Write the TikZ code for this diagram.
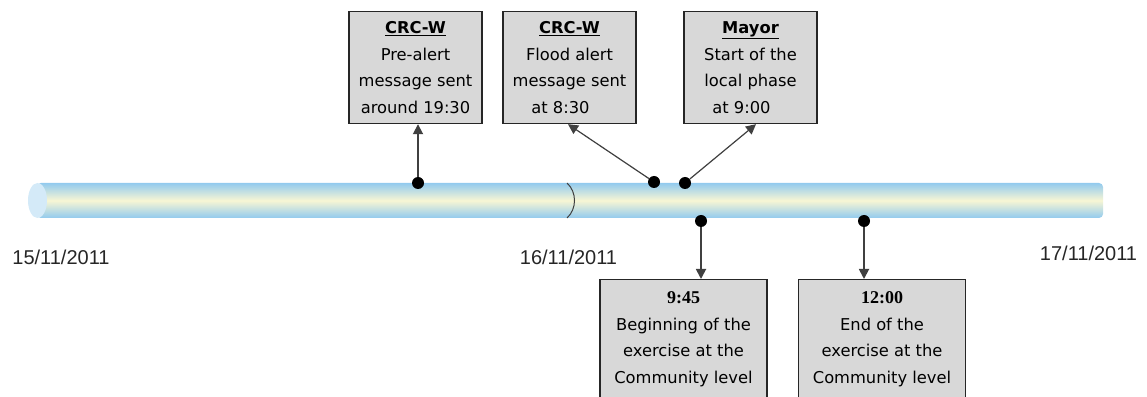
\documentclass[tikz,border=0pt]{standalone}
\usepackage{fontspec}
\setmainfont{DejaVu Sans}
\newfontfamily\datefont{Liberation Sans}
\newfontfamily\timefont{Liberation Serif}
\usetikzlibrary{arrows.meta}
\definecolor{barblue}{RGB}{146,202,238}
\definecolor{barcream}{RGB}{248,246,212}
\definecolor{capblue}{RGB}{212,234,248}
\definecolor{boxgray}{RGB}{216,216,216}

\begin{document}
\begin{tikzpicture}[x=1pt,y=1pt,>={Triangle[width=10pt,length=10pt]},
  evbox/.style={draw=black!85,line width=1.2pt,fill=boxgray,align=center,
    font=\fontsize{16.3}{26.5}\selectfont,inner sep=0pt},
  topbox/.style={evbox,minimum width=133pt,minimum height=112pt,anchor=north},
  lowbox/.style={evbox,minimum width=167pt,inner ysep=12pt,anchor=north},
  evdot/.style={circle,fill=black,minimum size=12pt,inner sep=0pt},
  link/.style={->,draw=black!75,fill=black!75,line width=1.8pt},
  date/.style={font=\datefont\fontsize{20}{24}\selectfont,text=black!85}]
  \useasboundingbox (0,0) rectangle (1147,396);
  \clip (0,0) rectangle (1147,396);

  \shade[top color=barblue,bottom color=barblue,middle color=barcream,rounded corners=4pt]
    (37,178) rectangle (1103,213);
  \fill[capblue] (37.5,195.5) ellipse [x radius=9.5, y radius=17.5];
  \draw[black!75,line width=1pt] (567,213) .. controls (577,204) and (577,187) .. (567,178);

  \node[date] (day1) at (61,139) {15/11/2011};
  \node[date] (day2) at (568.5,139) {16/11/2011};
  \node[date] (day3) at (1088.5,143) {17/11/2011};

  \node[evdot] (d1) at (418,213) {};
  \node[evdot] (d2) at (654,214) {};
  \node[evdot] (d3) at (685,213) {};
  \node[evdot] (d4) at (701,175) {};
  \node[evdot] (d5) at (864,175) {};

  \node[topbox] (prealert) at (415.5,385) {\underline{\textbf{CRC-W}}\\Pre-alert\\message sent\\around 19:30};
  \node[topbox] (floodalert) at (569.5,385) {\underline{\textbf{CRC-W}}\\Flood alert\\message sent\\at 8:30\hspace*{18pt}};
  \node[topbox] (mayor) at (750.5,385) {\underline{\textbf{Mayor}}\\Start of the\\local phase\\at 9:00\hspace*{18pt}};
  \node[lowbox] (start) at (683.5,117) {{\timefont\bfseries\fontsize{18}{27}\selectfont 9:45}\\Beginning of the\\exercise at the\\Community level\rule[-40pt]{0pt}{0pt}};
  \node[lowbox] (finish) at (882,117) {{\timefont\bfseries\fontsize{18}{27}\selectfont 12:00}\\End of the\\exercise at the\\Community level\rule[-40pt]{0pt}{0pt}};

  \draw[link] (d1) -- (d1 |- prealert.south);
  \draw[link,line width=1.2pt] (d2) -- ([xshift=-1.5pt]floodalert.south);
  \draw[link,line width=1.2pt] (d3) -- ([xshift=5.5pt]mayor.south);
  \draw[link] (d4) -- (d4 |- start.north);
  \draw[link] (d5) -- (d5 |- finish.north);
\end{tikzpicture}
\end{document}
